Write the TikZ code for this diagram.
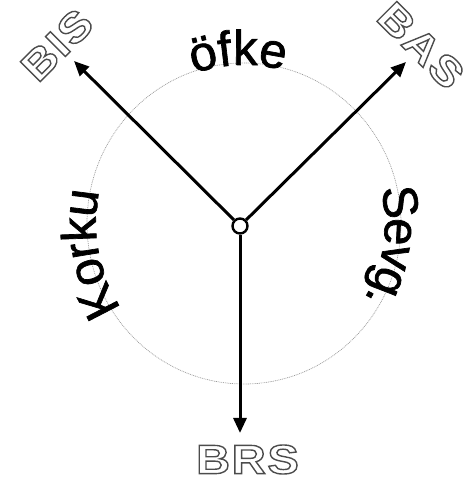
\documentclass[tikz,border=0pt]{standalone}
\usepackage{fontspec}
\setmainfont{Liberation Sans}
\newfontfamily\moodfont[FakeBold=1.4]{Liberation Sans}
\newfontfamily\sysfont[FakeStretch=1.15, LetterSpace=4]{Liberation Sans Bold}
\usetikzlibrary{decorations.text,arrows.meta}
\newcommand\hollow[1]{\special{pdf:literal direct 1 Tr 1.4 w 0.3 G}#1\special{pdf:literal direct 0 Tr}}
\tikzset{
  ring/.style={draw=gray!80, line width=0.7pt, dash pattern=on 0.9pt off 0.9pt},
  hub/.style={circle, draw, line width=2.4pt, fill=white, minimum size=15pt, inner sep=0pt},
  axis/.style={line width=3pt, -{Triangle[length=15pt,width=13pt]}},
  sys/.style={font=\fontsize{41}{41}\sysfont, inner sep=0pt},
  moodtext/.style={decorate, decoration={text along path, text align=center, raise=#1}},
}
\begin{document}
\begin{tikzpicture}[x=1pt,y=1pt]
\useasboundingbox (0,0) rectangle (465,481);
\draw[ring] (244,257.5) ellipse[x radius=157, y radius=160.5];
\path[moodtext=-2pt, decoration={text={|\fontsize{49}{49}\moodfont|öfke}}]
  ([shift={(244,257.5)}]152:157 and 160.5) arc[start angle=152, end angle=32, x radius=157, y radius=160.5];
\path[moodtext=-9pt, decoration={text={|\fontsize{49}{49}\moodfont|Korku}}]
  ([shift={(244,257.5)}]251:157 and 160.5) arc[start angle=251, end angle=131, x radius=157, y radius=160.5];
\path[moodtext=-16pt, decoration={text={|\fontsize{49}{49}\moodfont|Sevg.}}]
  ([shift={(244,257.5)}]51:157 and 160.5) arc[start angle=51, end angle=-69, x radius=157, y radius=160.5];
\node[hub] (hub) at (240,255) {};
\node[sys, rotate=45] (bis) at (57,436) {\hollow{BIS}};
\node[sys, rotate=-45] (bas) at (421,435.5) {\hollow{BAS}};
\node[sys] (brs) at (247.5,21.5) {\hollow{BRS}};
\coordinate (tbis) at (74,420);
\coordinate (tbas) at (406,419);
\coordinate (tbrs) at (240,48);
\draw[axis] (hub) -- (tbis);
\draw[axis] (hub) -- (tbas);
\draw[axis] (hub) -- (tbrs);
\end{tikzpicture}
\end{document}
